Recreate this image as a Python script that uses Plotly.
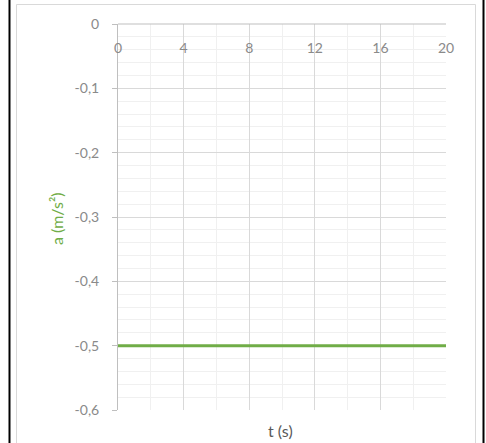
import plotly.graph_objects as go

t_values = [0, 4, 8, 12, 16, 20]
a_values = [-0.5, -0.5, -0.5, -0.5, -0.5, -0.5]
y_tickvals = [0, -0.1, -0.2, -0.3, -0.4, -0.5, -0.6]
y_ticktext = ["0", "-0,1", "-0,2", "-0,3", "-0,4", "-0,5", "-0,6"]
x_tickvals = [0, 4, 8, 12, 16, 20]
x_ticktext = ["0", "4", "8", "12", "16", "20"]

W, H = 486, 443
L, R, T, B = 118, 40, 24, 33
pw, ph = W - L - R, H - T - B

def px(x):
    return (x - L) / pw

def py(y):
    return 1 - (y - T) / ph

FONT = "Lato"
TICK_COLOR = "#8a8a8a"
GREEN = "#70ad47"

fig = go.Figure()
fig.add_trace(go.Scatter(x=t_values, y=a_values, mode="lines",
                         line=dict(color=GREEN, width=3), showlegend=False,
                         hoverinfo="skip"))

fig.update_layout(
    width=W, height=H,
    margin=dict(l=L, r=R, t=T, b=B),
    paper_bgcolor="white", plot_bgcolor="white",
    font=dict(family=FONT, size=14, color=TICK_COLOR),
    showlegend=False,
)

fig.update_xaxes(
    range=[0, 20], side="top", ticklabelposition="inside",
    tickvals=x_tickvals, ticktext=x_ticktext, ticklabeloverflow="allow",
    ticks="", ticklabelstandoff=16,
    showgrid=True, gridcolor="#d9d9d9", gridwidth=1,
    minor=dict(dtick=2, showgrid=True, gridcolor="#f0f0f0", ticks=""),
    showline=False, zeroline=False,
    tickfont=dict(family=FONT, size=14, color=TICK_COLOR),
)
fig.update_yaxes(
    range=[-0.6, 0], tickvals=y_tickvals, ticktext=y_ticktext,
    ticklabeloverflow="allow",
    ticks="outside", ticklen=5, tickcolor="#bfbfbf", ticklabelstandoff=10,
    showgrid=True, gridcolor="#d9d9d9", gridwidth=1,
    minor=dict(dtick=0.02, tick0=0, showgrid=True, gridcolor="#f0f0f0", ticks=""),
    showline=True, linecolor="#bfbfbf", linewidth=1, zeroline=False,
    tickfont=dict(family=FONT, size=14, color=TICK_COLOR),
)

# top axis line at y=0 (x axis crossing)
fig.add_shape(type="line", xref="paper", yref="paper", x0=0, x1=1, y0=1, y1=1,
              line=dict(color="#bfbfbf", width=1), layer="above")

# chart frame and outer border
fig.add_shape(type="rect", xref="paper", yref="paper",
              x0=px(16.5), x1=px(475.5), y0=py(4.5), y1=py(460),
              line=dict(color="#d9d9d9", width=1), fillcolor="rgba(0,0,0,0)",
              layer="below")
fig.add_shape(type="line", xref="paper", yref="paper",
              x0=px(9.5), x1=px(9.5), y0=py(-5), y1=py(460),
              line=dict(color="black", width=2))
fig.add_shape(type="line", xref="paper", yref="paper",
              x0=px(483.5), x1=px(483.5), y0=py(-5), y1=py(460),
              line=dict(color="black", width=2))

fig.add_annotation(text="a (m/s²)", xref="paper", yref="paper",
                   x=px(56), y=py(219), textangle=-90, showarrow=False,
                   xanchor="center", yanchor="middle",
                   font=dict(family=FONT, size=16, color=GREEN))
fig.add_annotation(text="t (s)", xref="paper", yref="paper",
                   x=px(280), y=py(430), showarrow=False,
                   xanchor="center", yanchor="middle",
                   font=dict(family=FONT, size=16, color="#595959"))

fig.write_html("out.html", config={"displayModeBar": False},
               post_script="document.body.style.margin='0';")
